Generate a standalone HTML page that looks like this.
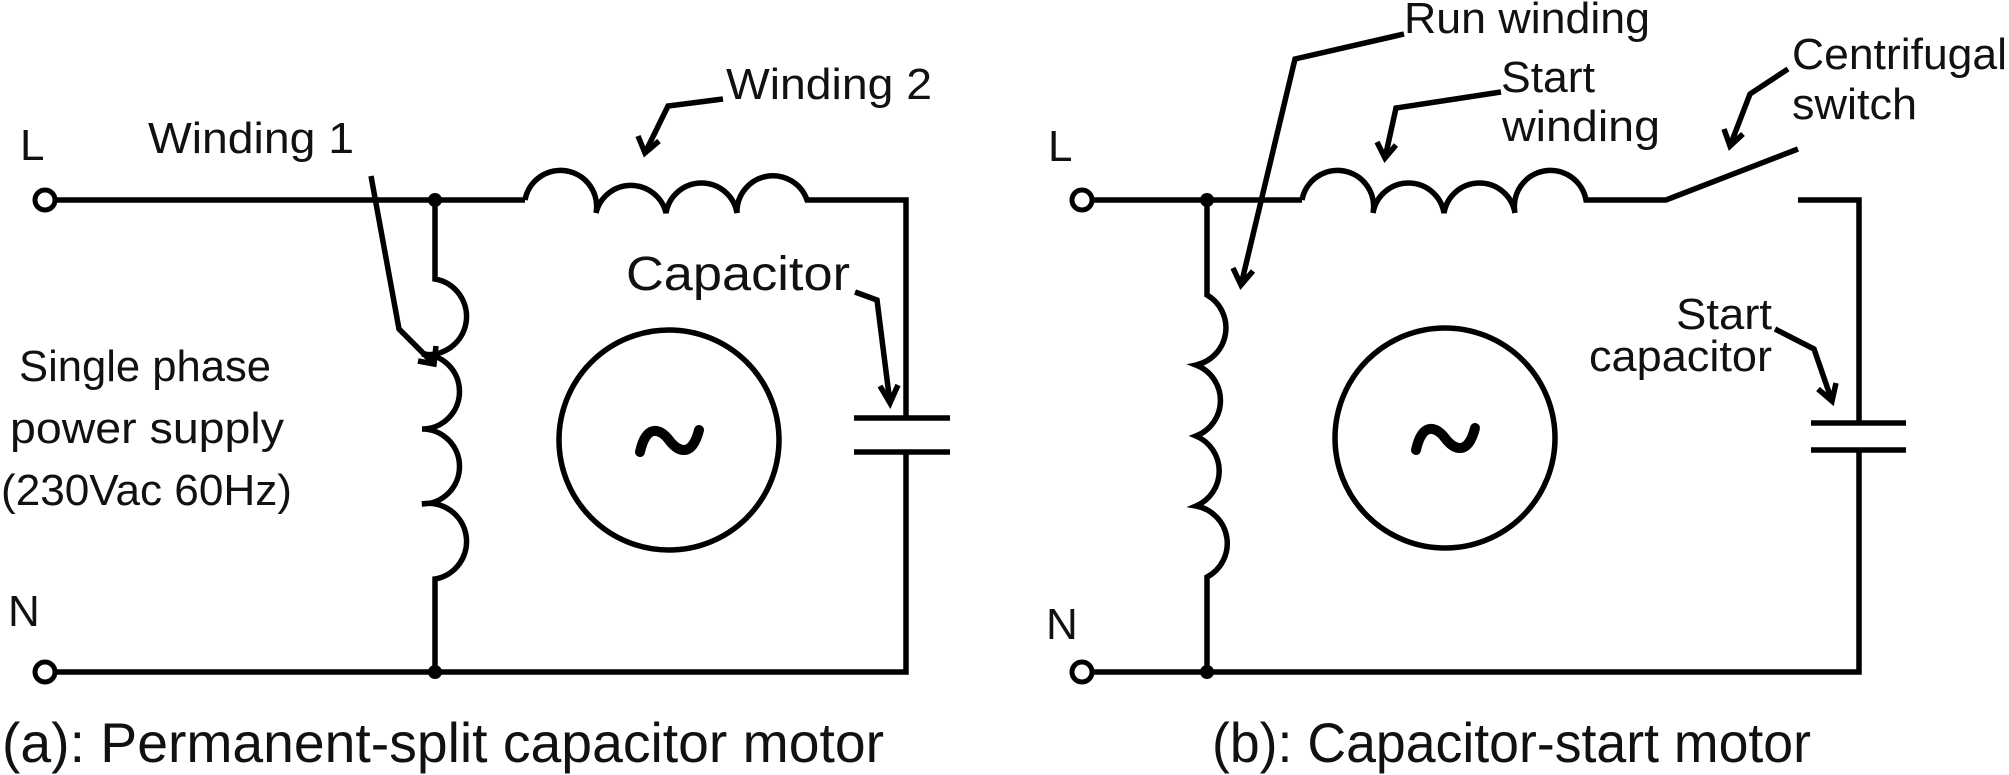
<!DOCTYPE html>
<html><head><meta charset="utf-8"><style>
html,body{margin:0;padding:0;background:#fff;}
svg{display:block;}
text{font-family:"Liberation Sans",sans-serif;fill:#111;}
</style></head><body>
<svg width="2009" height="775" viewBox="0 0 2009 775" xmlns="http://www.w3.org/2000/svg">
<g fill="none" stroke="#000" stroke-width="5.5" stroke-linejoin="miter">
<!-- LEFT PANEL -->
<path d="M45,200 H525"/>
<path d="M525,200 A36,36 0 0 1 596,213 A36,36 0 0 1 666,213 A36,36 0 0 1 737,213 A36,36 0 0 1 807,200 H906 V418"/>
<path d="M854,418 H950 M854,452 H950"/>
<path d="M906,452 V672 H45"/>
<path d="M435,200 V279 A37,37 0 0 1 422,354 A37,37 0 0 1 422,429 A37,37 0 0 1 422,504 A37,37 0 0 1 435,579 V672"/>
<circle cx="669" cy="440" r="110"/>
<path d="M640,452 C646,424 660,428 669,440 S692,458 699,430" stroke-width="10" stroke-linecap="round"/>
<!-- arrows left -->
<path d="M371,176 L399,329 L434,364"/>
<path d="M418,361 L434,364 L436,346"/>
<path d="M723,99 L668,106 L645,153"/>
<path d="M638,136 L645,153 L659,141"/>
<path d="M855,292 L877,300 L890,403"/>
<path d="M880,386 L890,403 L898,385"/>
<!-- RIGHT PANEL -->
<path d="M1082,200 H1302"/>
<path d="M1302,200 A36,36 0 0 1 1373,213 A36,36 0 0 1 1444,213 A36,36 0 0 1 1515,213 A36,36 0 0 1 1586,200 H1666 L1798,149"/>
<path d="M1798,200 H1859 V423"/>
<path d="M1811,423 H1906 M1811,450 H1906"/>
<path d="M1859,450 V672 H1082"/>
<path d="M1207,200 V295 A38,38 0 0 1 1196,365 A38,38 0 0 1 1196,436 A38,38 0 0 1 1196,506 A38,38 0 0 1 1207,577 V672"/>
<circle cx="1445" cy="438" r="110"/>
<path d="M1416,450 C1422,422 1436,426 1445,438 S1468,456 1475,428" stroke-width="10" stroke-linecap="round"/>
<!-- arrows right -->
<path d="M1404,34 L1295,59 L1241,285"/>
<path d="M1233,268 L1241,285 L1253,271"/>
<path d="M1501,92 L1396,108 L1385,158"/>
<path d="M1377,142 L1385,158 L1396,145"/>
<path d="M1788,69 L1750,94 L1730,146"/>
<path d="M1724,129 L1730,146 L1743,134"/>
<path d="M1775,329 L1814,349 L1832,401"/>
<path d="M1818,389 L1832,401 L1836,383"/>
</g>
<g fill="#000">
<circle cx="435" cy="200" r="7"/><circle cx="435" cy="672" r="7"/>
<circle cx="1207" cy="200" r="7"/><circle cx="1207" cy="672" r="7"/>
</g>
<g fill="#fff" stroke="#000" stroke-width="5">
<circle cx="45" cy="200" r="10"/><circle cx="45" cy="672" r="10"/>
<circle cx="1082" cy="200" r="10"/><circle cx="1082" cy="672" r="10"/>
</g>
<g font-size="44">
<text x="20" y="160">L</text>
<text x="8" y="626">N</text>
<text x="1048" y="161">L</text>
<text x="1046" y="639">N</text>
<text x="148" y="153" textLength="206" lengthAdjust="spacingAndGlyphs">Winding 1</text>
<text x="726" y="99" textLength="206" lengthAdjust="spacingAndGlyphs">Winding 2</text>
<text x="626" y="290" textLength="224" lengthAdjust="spacingAndGlyphs" font-size="48">Capacitor</text>
<text x="19" y="381" textLength="252" lengthAdjust="spacingAndGlyphs">Single phase</text>
<text x="10" y="443" textLength="274" lengthAdjust="spacingAndGlyphs">power supply</text>
<text x="1" y="505" textLength="291" lengthAdjust="spacingAndGlyphs">(230Vac 60Hz)</text>
<text x="1404" y="33" textLength="246" lengthAdjust="spacingAndGlyphs">Run winding</text>
<text x="1501" y="92" textLength="94" lengthAdjust="spacingAndGlyphs">Start</text>
<text x="1502" y="141" textLength="158" lengthAdjust="spacingAndGlyphs">winding</text>
<text x="1792" y="69" textLength="215" lengthAdjust="spacingAndGlyphs">Centrifugal</text>
<text x="1792" y="119" textLength="125" lengthAdjust="spacingAndGlyphs">switch</text>
<text x="1676" y="329" textLength="96" lengthAdjust="spacingAndGlyphs">Start</text>
<text x="1589" y="371" textLength="183" lengthAdjust="spacingAndGlyphs">capacitor</text>
</g>
<g font-size="56">
<text x="2" y="762" textLength="882" lengthAdjust="spacingAndGlyphs">(a):  Permanent-split capacitor motor</text>
<text x="1212" y="762" textLength="599" lengthAdjust="spacingAndGlyphs">(b): Capacitor-start motor</text>
</g>
</svg>
</body></html>
